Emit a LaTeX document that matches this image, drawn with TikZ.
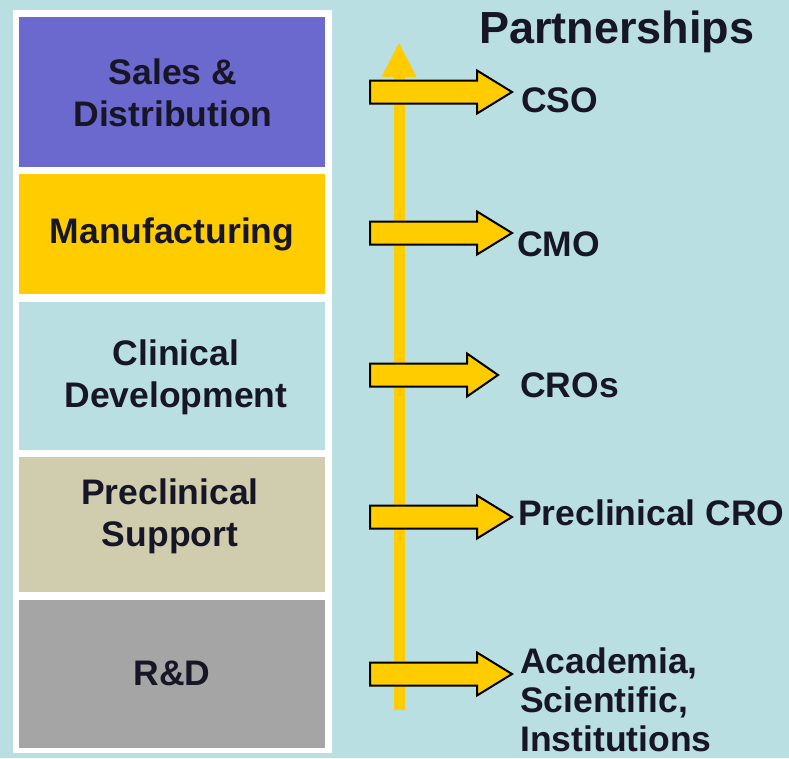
\documentclass[tikz,border=0pt]{standalone}
\usepackage{fontspec}
\setmainfont{Liberation Sans}
\definecolor{bgblue}{HTML}{BADFE3}
\definecolor{salesc}{HTML}{6B68CE}
\definecolor{manuc}{HTML}{FFCC00}
\definecolor{clinc}{HTML}{BADFE2}
\definecolor{prec}{HTML}{D0CCAE}
\definecolor{rdc}{HTML}{A5A5A5}
\definecolor{txtc}{HTML}{161626}
\definecolor{arry}{HTML}{FFCC00}
\tikzset{
  blockbox/.style={fill=#1, draw=none},
  blocktext/.style={text=txtc, font=\bfseries\fontsize{35.5}{42}\selectfont, align=center, inner sep=0pt},
  parttext/.style={text=txtc, font=\bfseries\fontsize{35.5}{39}\selectfont, align=left, inner sep=0pt, anchor=west},
  partarrow/.style={fill=arry, draw=black, line width=2pt, line join=miter},
}
\newcommand{\partArrowAt}[3]{% y, shaft end x, tip x
  \draw[partarrow] (370,#1-11.5) -- (#2,#1-11.5) -- (#2,#1-21.5) -- (#3,#1) -- (#2,#1+21.5) -- (#2,#1+11.5) -- (370,#1+11.5) -- cycle;
}
\begin{document}
\begin{tikzpicture}[x=1pt,y=-1pt]
\useasboundingbox (0,0) rectangle (789,758);
\fill[bgblue] (0,0) rectangle (789,758);
% white frame
\fill[white] (13,10) rectangle (332,753);
% blocks
\fill[blockbox=salesc] (19,17) rectangle (325,167);
\fill[blockbox=manuc] (19,174) rectangle (325,294);
\fill[blockbox=clinc] (19,302) rectangle (325,450);
\fill[blockbox=prec] (19,457) rectangle (325,592);
\fill[blockbox=rdc] (19,600) rectangle (325,748);
\node[blocktext] (sales) at (173,93) {Sales \&\\Distribution};
\node[blocktext] (manu) at (172,234) {Manufacturing};
\node[blocktext] (clin) at (176,377) {Clinical\\Development};
\node[blocktext] (pre) at (170,516) {Preclinical\\Support};
\node[blocktext] (rd) at (172,673) {R\&D};
% vertical arrow
\fill[arry] (393.5,710) rectangle (404.5,76);
\fill[arry] (381.5,77) -- (399,43) -- (416.5,77) -- cycle;
\coordinate (vbot) at (399,710);
\coordinate (vtop) at (399,43);
% horizontal arrows
\partArrowAt{92}{477}{512}
\partArrowAt{233}{477}{512}
\partArrowAt{375}{467}{498}
\partArrowAt{517}{477}{512}
\partArrowAt{674}{477}{512}
% labels
\node[text=txtc, font=\bfseries\fontsize{45}{50}\selectfont, anchor=base west, inner sep=0pt] (title) at (479,43) {Partnerships};
\node[parttext, anchor=base west] (cso) at (521,112) {CSO};
\node[parttext, anchor=base west] (cmo) at (517,256) {CMO};
\node[parttext, anchor=base west] (cros) at (520,397) {CROs};
\node[parttext, anchor=base west] (pcro) at (518,525) {Preclinical CRO};
\node[parttext, anchor=north west] (acad) at (520,648) {Academia,\\Scientific,\\Institutions};
\end{tikzpicture}
\end{document}
